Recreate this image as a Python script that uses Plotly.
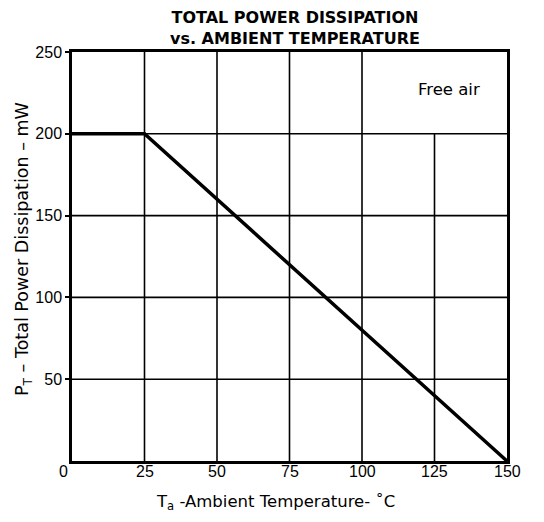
import plotly.graph_objects as go

# Data
temp_c = [0, 25, 150]
power_mw = [200, 200, 0]
x_ticks = [0, 25, 50, 75, 100, 125, 150]
y_ticks = [50, 100, 150, 200, 250]
v_grid = [25, 50, 75, 100]
v_grid_partial = [125]  # only up to 200 mW
h_grid = [50, 100, 150, 200]

fig = go.Figure()
fig.add_trace(go.Scatter(x=temp_c, y=power_mw, mode="lines",
                         line=dict(color="black", width=3.5), showlegend=False,
                         hoverinfo="skip"))

shapes = []
for gx in v_grid:
    shapes.append(dict(type="line", xref="x", yref="y", x0=gx, x1=gx, y0=0, y1=250,
                       line=dict(color="black", width=1.6), layer="below"))
for gx in v_grid_partial:
    shapes.append(dict(type="line", xref="x", yref="y", x0=gx, x1=gx, y0=0, y1=200,
                       line=dict(color="black", width=1.6), layer="below"))
for gy in h_grid:
    shapes.append(dict(type="line", xref="x", yref="y", x0=0, x1=150, y0=gy, y1=gy,
                       line=dict(color="black", width=1.6), layer="below"))

font_main = "Liberation Sans, Arial, sans-serif"
font_wide = "DejaVu Sans, sans-serif"

# page has an 8px body margin, so the figure is 8px smaller each way
W, H = 536, 514
PL, PR, PT, PB = 72, 507, 52, 461  # target plot box in window pixels


def px(x):
    return (x - PL) / (PR - PL)


def py(y):
    return (PB - y) / (PB - PT)


annotations = [
    dict(text="<b>TOTAL POWER DISSIPATION<br>vs. AMBIENT TEMPERATURE</b>",
         x=px(295), y=py(28),
         xref="paper", yref="paper", xanchor="center", yanchor="middle",
         showarrow=False, font=dict(size=16, family=font_wide, color="black")),
    dict(text="Free air", x=130, y=227, xref="x", yref="y",
         showarrow=False, font=dict(size=16.5, family=font_wide, color="black")),
    dict(text="T<sub>a</sub> -Ambient Temperature- ˚C", x=px(275), y=py(503),
         xref="paper", yref="paper", xanchor="center", yanchor="middle",
         showarrow=False, font=dict(size=16.5, family=font_wide, color="black")),
    dict(text="P<sub>T</sub> – Total Power Dissipation – mW", x=px(23), y=py(249),
         xref="paper", yref="paper", xanchor="center", yanchor="middle",
         textangle=-90, showarrow=False,
         font=dict(size=17.5, family=font_wide, color="black")),
]
for v in x_ticks:
    annotations.append(dict(text=str(v), x=v, y=py(471), xref="x", yref="paper",
                            xanchor="center", yanchor="middle", showarrow=False,
                            xshift=-9 if v == 0 else 0,
                            font=dict(size=16, family=font_main, color="black")))

fig.update_layout(
    width=W, height=H,
    margin=dict(l=PL - 8, r=544 - PR, t=PT - 8, b=522 - PB),
    paper_bgcolor="white", plot_bgcolor="white",
    shapes=shapes,
    font=dict(family=font_main, color="black", size=16),
    xaxis=dict(range=[0, 150], showticklabels=False,
               showgrid=False, zeroline=False, showline=True, linecolor="black",
               linewidth=2.5, mirror=True, ticks="", automargin=False),
    yaxis=dict(range=[0, 250], tickvals=y_ticks, ticktext=[str(v) for v in y_ticks],
               showgrid=False, zeroline=False, showline=True, linecolor="black",
               linewidth=2.5, mirror=True, ticks="outside", ticklen=4, tickwidth=1.5,
               tickcolor="black", tickfont=dict(size=16), automargin=False),
    annotations=annotations,
)

fig.write_html("out.html")
